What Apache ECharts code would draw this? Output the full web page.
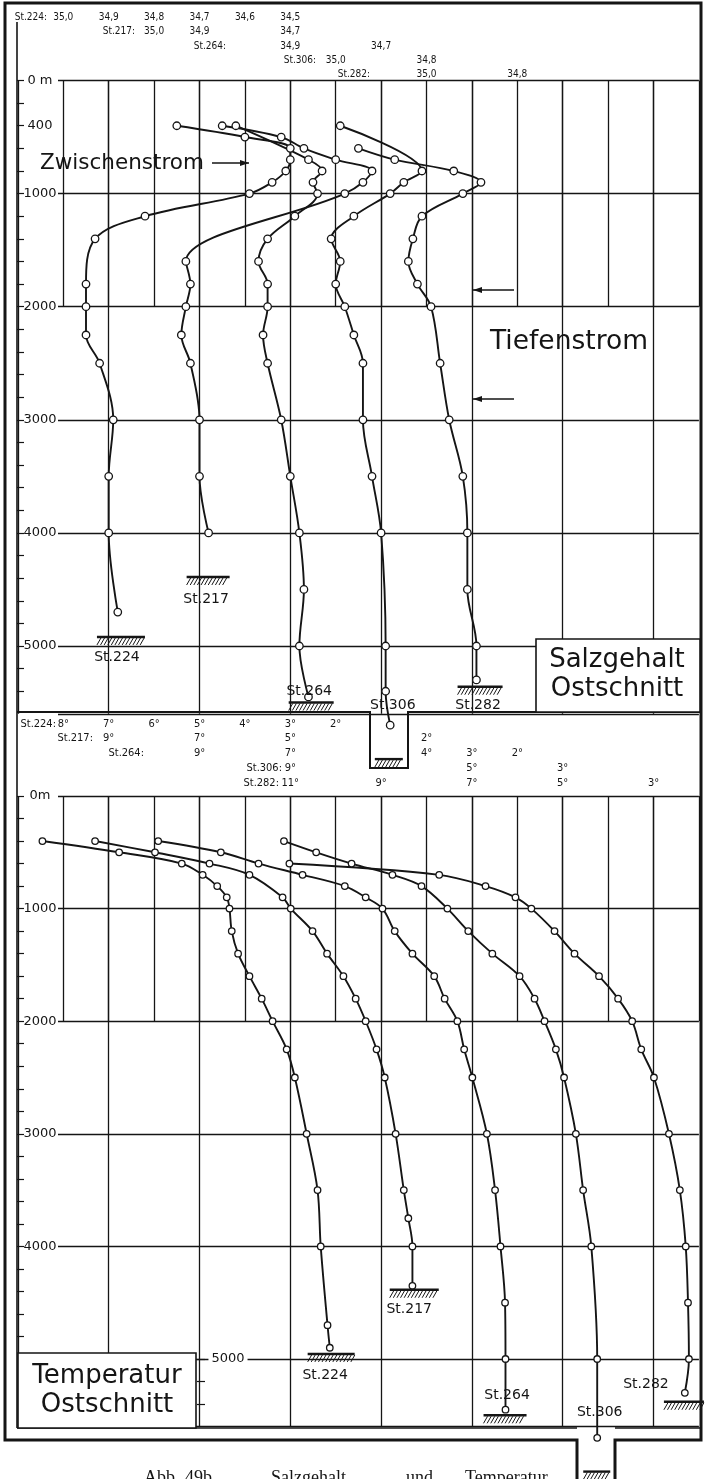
<!DOCTYPE html>
<html>
<head>
<meta charset="utf-8">
<title>Salzgehalt und Temperatur – Ostschnitt</title>
<script src="https://cdn.jsdelivr.net/npm/echarts@6.0.0/dist/echarts.min.js"></script>
<style>
  html, body { margin: 0; padding: 0; background: #fff; }
  #chart { width: 708px; height: 1479px; }
</style>
</head>
<body>
<div id="chart"></div>
<script>
// ---------------- Stations ----------------
const stations = ['St.224', 'St.217', 'St.264', 'St.306', 'St.282'];

// ---------------- Salinity profiles [depth m, salinity ‰] ----------------
const sal224 = [[400,34.75],[500,34.60],[600,34.50],[700,34.50],[800,34.51],[900,34.54],[1000,34.59],[1200,34.82],[1400,34.93],[1800,34.95],[2000,34.95],[2250,34.95],[2500,34.92],[3000,34.89],[3500,34.90],[4000,34.90],[4700,34.88]];
const sal217 = [[400,34.85],[500,34.72],[600,34.67],[700,34.60],[800,34.52],[900,34.54],[1000,34.58],[1600,34.93],[1800,34.92],[2000,34.93],[2250,34.94],[2500,34.92],[3000,34.90],[3500,34.90],[4000,34.88]];
const sal264 = [[400,35.02],[700,34.86],[800,34.83],[900,34.85],[1000,34.84],[1200,34.89],[1400,34.95],[1600,34.97],[1800,34.95],[2000,34.95],[2250,34.96],[2500,34.95],[3000,34.92],[3500,34.90],[4000,34.88],[4500,34.87],[5000,34.88],[5450,34.86]];
const sal306 = [[400,34.99],[800,34.81],[900,34.85],[1000,34.88],[1200,34.96],[1400,35.01],[1600,34.99],[1800,35.00],[2000,34.98],[2250,34.96],[2500,34.94],[3000,34.94],[3500,34.92],[4000,34.90],[5000,34.89],[5400,34.89],[5700,34.88]];
const sal282 = [[600,35.15],[700,35.07],[800,34.94],[900,34.88],[1000,34.92],[1200,35.01],[1400,35.03],[1600,35.04],[1800,35.02],[2000,34.99],[2500,34.97],[3000,34.95],[3500,34.92],[4000,34.91],[4500,34.91],[5000,34.89],[5300,34.89]];

// ---------------- Temperature profiles [depth m, °C] ----------------
const temp224 = [[400,8.46],[500,6.77],[600,5.39],[700,4.93],[800,4.61],[900,4.40],[1000,4.34],[1200,4.29],[1400,4.15],[1600,3.90],[1800,3.63],[2000,3.39],[2250,3.08],[2500,2.90],[3000,2.64],[3500,2.40],[4000,2.33],[4700,2.18],[4900,2.13]];
const temp217 = [[400,9.30],[500,7.98],[600,6.78],[700,5.90],[900,5.17],[1000,4.99],[1200,4.51],[1400,4.19],[1600,3.83],[1800,3.56],[2000,3.34],[2250,3.10],[2500,2.92],[3000,2.68],[3500,2.50],[3750,2.40],[4000,2.31],[4350,2.31]];
const temp264 = [[400,9.91],[500,8.53],[600,7.70],[700,6.73],[800,5.80],[900,5.34],[1000,4.97],[1200,4.70],[1400,4.31],[1600,3.83],[1800,3.60],[2000,3.32],[2250,3.17],[2500,2.99],[3000,2.67],[3500,2.49],[4000,2.37],[4500,2.27],[5000,2.26],[5450,2.26]];
const temp306 = [[400,9.14],[500,8.43],[600,7.65],[700,6.75],[800,6.11],[1000,5.54],[1200,5.08],[1400,4.55],[1600,3.95],[1800,3.62],[2000,3.40],[2250,3.15],[2500,2.97],[3000,2.71],[3500,2.55],[4000,2.37],[5000,2.24],[5700,2.24]];
const temp282 = [[600,11.02],[700,7.72],[800,6.70],[900,6.04],[1000,5.69],[1200,5.18],[1400,4.74],[1600,4.20],[1800,3.78],[2000,3.47],[2250,3.27],[2500,2.99],[3000,2.66],[3500,2.42],[4000,2.29],[4500,2.24],[5000,2.22],[5300,2.31]];

// ---------------- Sea floor [depth m, value at foot of profile] ----------------
const salBottom  = [[4920,34.873],[4390,34.881],[5500,34.854],[6000,34.883],[5360,34.882]];
const tempBottom = [[4955,2.10],[4385,2.27],[5500,2.27],[6000,2.25],[5380,2.33]];

// ---------------- Per-station scales (value at the first column line) ----------------
const salScaleLeft  = [35.0, 35.2, 35.4, 35.6, 35.8];   // ‰, 0.1 per column
const tempScaleLeft = [8, 10, 12, 14, 16];              // °C, 1 per column
const salHeadTicks  = [[35.0,34.9,34.8,34.7,34.6,34.5],[35.0,34.9,34.7],[34.9,34.7],[35.0,34.8],[35.0,34.8]];
const tempHeadTicks = [[8,7,6,5,4,3,2],[9,7,5,2],[9,7,4,3,2],[9,5,3],[11,9,7,5,3]];

// ---------------- Depth axis labelling ----------------
const salDepthLabels  = [0, 400, 1000, 2000, 3000, 4000, 5000];
const tempDepthLabels = [0, 1000, 2000, 3000, 4000];

// ================= layout & styling =================
const INK = '#151515';
const COND = "'DejaVu Sans Condensed','Liberation Sans Narrow','DejaVu Sans',sans-serif";
const SANS = "'DejaVu Sans',sans-serif";
const COL0 = 63.3, COLW = 45.4, NCOL = 14, GRID_W = COLW * NCOL;
const DMAX = 5600;      // panel floor

const grid = [], xAxis = [], yAxis = [], series = [];
const addGrid = g => { grid.push(g); return grid.length - 1; };
const off = { axisLine: { show: false }, axisTick: { show: false }, axisLabel: { show: false } };
const rule = { show: true, lineStyle: { color: INK, width: 1.3 } };
const dummyX = g => xAxis.push({ type: 'value', gridIndex: g, min: 0, max: 1, ...off, splitLine: { show: false } });

function hatch(cx, cy, w) {
  const kids = [{ type: 'line', shape: { x1: cx - w / 2, y1: cy, x2: cx + w / 2, y2: cy },
                  style: { stroke: INK, lineWidth: 2.4 } }];
  for (let x = cx - w / 2 + 4; x <= cx + w / 2 + 0.5; x += 3.6) {
    kids.push({ type: 'line', shape: { x1: x, y1: cy + 1, x2: x - 4, y2: cy + 8 },
                style: { stroke: INK, lineWidth: 1 } });
  }
  return kids;
}

function depthAxis(g, min, max, cfg, extra) {
  yAxis.push(Object.assign({
    type: 'value', gridIndex: g, min, max, inverse: true, interval: 200, position: 'left', offset: 0,
    axisLine: { show: false },
    axisTick: { show: true, inside: true, length: 7, lineStyle: { color: INK, width: 1.2 } },
    axisLabel: { show: true, inside: true, margin: 23, align: 'center', verticalAlign: 'middle',
                 color: INK, fontSize: 13, fontFamily: SANS,
                 formatter: v => cfg.depthLabels.includes(v) ? (v === 0 ? cfg.zero : String(v)) : '' },
    splitLine: { show: false }
  }, extra || {}));
}

function panel(cfg) {
  const h = DMAX * cfg.pxm;
  // depth scale along the left border
  const gAxis = addGrid({ left: 17, top: cfg.top, width: 40, height: cfg.axisMax * cfg.pxm });
  dummyX(gAxis);
  depthAxis(gAxis, 0, cfg.axisMax, cfg);

  // horizontal rules every 1000 m
  const gRule = addGrid({ left: 58, top: cfg.top, width: COL0 + GRID_W - 58, height: h });
  dummyX(gRule);
  yAxis.push({ type: 'value', gridIndex: gRule, min: 0, max: DMAX, inverse: true, interval: 1000, ...off, splitLine: rule });

  // every column line down to 2000 m
  const gUp = addGrid({ left: COL0, top: cfg.top, width: GRID_W, height: 2000 * cfg.pxm });
  xAxis.push({ type: 'value', gridIndex: gUp, min: 0, max: NCOL, interval: 1, ...off, splitLine: rule });
  yAxis.push({ type: 'value', gridIndex: gUp, min: 0, max: 2000, ...off, splitLine: { show: false } });

  // every second column line over the full depth
  const gOdd = addGrid({ left: COL0 - COLW, top: cfg.top, width: GRID_W, height: h });
  xAxis.push({ type: 'value', gridIndex: gOdd, min: -1, max: NCOL - 1, interval: 2, ...off, splitLine: rule });
  yAxis.push({ type: 'value', gridIndex: gOdd, min: 0, max: DMAX, ...off, splitLine: { show: false } });

  // data grid: one column wider on the left and deep enough for the notches
  const gData = addGrid({ left: COL0 - COLW, top: cfg.top, width: GRID_W + COLW, height: cfg.dataMax * cfg.pxm });
  const yData = yAxis.length;
  yAxis.push({ type: 'value', gridIndex: gData, min: 0, max: cfg.dataMax, inverse: true, ...off, splitLine: { show: false } });

  // one value axis per station, labelled in the header rows
  const xStart = xAxis.length;
  for (let i = 0; i < 5; i++) {
    const ticks = cfg.headTicks[i];
    xAxis.push({
      type: 'value', gridIndex: gData, inverse: true,
      min: +(cfg.left[i] - cfg.span).toFixed(3), max: +(cfg.left[i] + cfg.step).toFixed(3), interval: cfg.step,
      position: 'top', offset: cfg.top - cfg.rows[i],
      axisLine: { show: false }, axisTick: { show: false }, splitLine: { show: false },
      axisLabel: { show: true, margin: 0, align: 'center', verticalAlign: 'middle',
                   fontSize: cfg.headFont, fontFamily: COND, color: INK,
                   formatter: v => ticks.some(t => Math.abs(t - v) < cfg.step / 10) ? cfg.fmt(v) : '' }
    });
  }

  cfg.profiles.forEach((prof, i) => {
    series.push({
      type: 'line', name: stations[i], xAxisIndex: xStart + i, yAxisIndex: yData,
      data: prof.map(([d, v]) => [v, d]),
      smooth: 0.35, clip: false, symbol: 'circle', symbolSize: cfg.sym, showAllSymbol: true,
      itemStyle: { color: '#fff', borderColor: INK, borderWidth: 1.3 },
      lineStyle: { color: INK, width: 1.9 },
      emphasis: { disabled: true }, silent: true, animation: false, z: 5
    });
    const L = cfg.foot[i];
    series.push({
      type: 'custom', xAxisIndex: xStart + i, yAxisIndex: yData, clip: false, silent: true,
      animation: false, z: 6,
      data: [[cfg.bottom[i][1], cfg.bottom[i][0]]],
      renderItem: (params, api) => {
        const p = api.coord([api.value(0), api.value(1)]);
        return { type: 'group', children: hatch(p[0], p[1], L.w).concat([{
          type: 'text', x: p[0] + L.dx, y: p[1] + L.dy,
          style: { text: stations[i], font: '14px ' + SANS, fill: INK,
                   align: 'center', verticalAlign: 'middle', textAlign: 'center', textVerticalAlign: 'middle' }
        }]) };
      }
    });
  });
}

panel({
  top: 80.5, pxm: 0.1131, axisMax: 5400, dataMax: 6200, rows: [17, 31.7, 46.5, 60.7, 74], headFont: 10, sym: 7.5,
  left: salScaleLeft, span: 1.4, step: 0.1, headTicks: salHeadTicks,
  fmt: v => v.toFixed(1).replace('.', ','),
  depthLabels: salDepthLabels, zero: '0 m',
  profiles: [sal224, sal217, sal264, sal306, sal282], bottom: salBottom,
  foot: [{ w: 48, dx: -4, dy: 20 }, { w: 43, dx: -2, dy: 22 }, { w: 45, dx: -2, dy: -11 },
         { w: 28, dx: 4, dy: -54 }, { w: 45, dx: -2, dy: 19 }]
});
panel({
  top: 796, pxm: 0.1126, axisMax: 4800, dataMax: 6000, rows: [724, 738.5, 753.5, 768.5, 783.5], headFont: 11, sym: 6.5,
  left: tempScaleLeft, span: 14, step: 1, headTicks: tempHeadTicks,
  fmt: v => Math.round(v) + '°',
  depthLabels: tempDepthLabels, zero: '0m',
  profiles: [temp224, temp217, temp264, temp306, temp282], bottom: tempBottom,
  foot: [{ w: 47, dx: -6, dy: 21 }, { w: 49, dx: -5, dy: 20 }, { w: 43, dx: 2, dy: -20 },
         { w: 27, dx: 3, dy: -59 }, { w: 40, dx: -38, dy: -17 }]
});

// short depth scale beside the "Temperatur" box (5000 m and below)
const gLow = addGrid({ left: 197, top: 796 + 5000 * 0.1126, width: 10, height: 400 * 0.1126 });
dummyX(gLow);
depthAxis(gLow, 5000, 5400, { depthLabels: [5000], zero: '' }, { z: 8 });
yAxis[yAxis.length - 1].axisTick.length = 8;
Object.assign(yAxis[yAxis.length - 1].axisLabel, { margin: 31, backgroundColor: '#fff', padding: [1, 3] });

// ---------------- frame, boxes and annotations ----------------
const graphic = [];
const poly = (pts, w) => graphic.push({ type: 'polyline', silent: true, z: 20,
  shape: { points: pts }, style: { stroke: INK, lineWidth: w, fill: null } });
const text = (t, x, y, font, align) => graphic.push({ type: 'text', silent: true, z: 22, x, y,
  style: { text: t, font, fill: INK, align: align || 'left', verticalAlign: 'middle',
           textAlign: align || 'left', textVerticalAlign: 'middle' } });
const box = (x, y, w, h) => graphic.push({ type: 'rect', silent: true, z: 21,
  shape: { x, y, width: w, height: h }, style: { fill: '#fff', stroke: INK, lineWidth: 1.6 } });
const arrow = (x1, x2, y) => {
  poly([[x1, y], [x2, y]], 1.4);
  const d = x2 > x1 ? -1 : 1;
  graphic.push({ type: 'polygon', silent: true, z: 20,
    shape: { points: [[x2, y], [x2 + d * 9, y - 3], [x2 + d * 9, y + 3]] }, style: { fill: INK } });
};

// outer frame with the deep notch for St.306
poly([[577, 1479], [577, 1440], [5, 1440], [5, 3], [701, 3], [701, 1440], [615, 1440], [615, 1479]], 3);
poly([[17, 22], [17, 1428]], 1.6);
poly([[17, 712], [370, 712], [370, 768], [408, 768], [408, 712], [701, 712]], 2);
poly([[17, 1428], [577, 1428]], 1.6);
poly([[615, 1428], [701, 1428]], 1.6);

box(536, 639, 164, 73);
text('Salzgehalt', 617, 660, '26px ' + SANS, 'center');
text('Ostschnitt', 617, 689, '26px ' + SANS, 'center');
box(18, 1353, 178, 75);
text('Temperatur', 107, 1376, '26px ' + SANS, 'center');
text('Ostschnitt', 107, 1405, '26px ' + SANS, 'center');

text('Zwischenstrom', 40, 163, '21.5px ' + SANS);
arrow(212, 249, 163);
text('Tiefenstrom', 490, 342, '26.5px ' + SANS);
arrow(514, 473, 290);
arrow(514, 473, 399);

// station names in the header rows
[[47, 17], [135, 31.7], [226, 46.5], [316, 60.7], [370, 74]].forEach(([x, y], i) =>
  text(stations[i] + ':', x, y, '10px ' + COND, 'right'));
[[56, 724], [93, 738.5], [144, 753.5], [282, 768.5], [279, 783.5]].forEach(([x, y], i) =>
  text(stations[i] + ':', x, y, '11px ' + COND, 'right'));

// figure caption
[['Abb.', 144], ['49b.', 185], ['Salzgehalt', 271], ['und', 406], ['Temperatur', 465]].forEach(([w, x]) =>
  graphic.push({ type: 'text', silent: true, z: 22, x, y: 1469,
    style: { text: w, font: '18px "Liberation Serif",serif', fill: INK, align: 'left', verticalAlign: 'top',
             textAlign: 'left', textVerticalAlign: 'top' } }));

const chart = echarts.init(document.getElementById('chart'), null, { renderer: 'canvas', width: 708, height: 1479 });
chart.setOption({
  backgroundColor: '#fff',
  animation: false,
  grid, xAxis, yAxis, series, graphic
});
</script>
</body>
</html>
